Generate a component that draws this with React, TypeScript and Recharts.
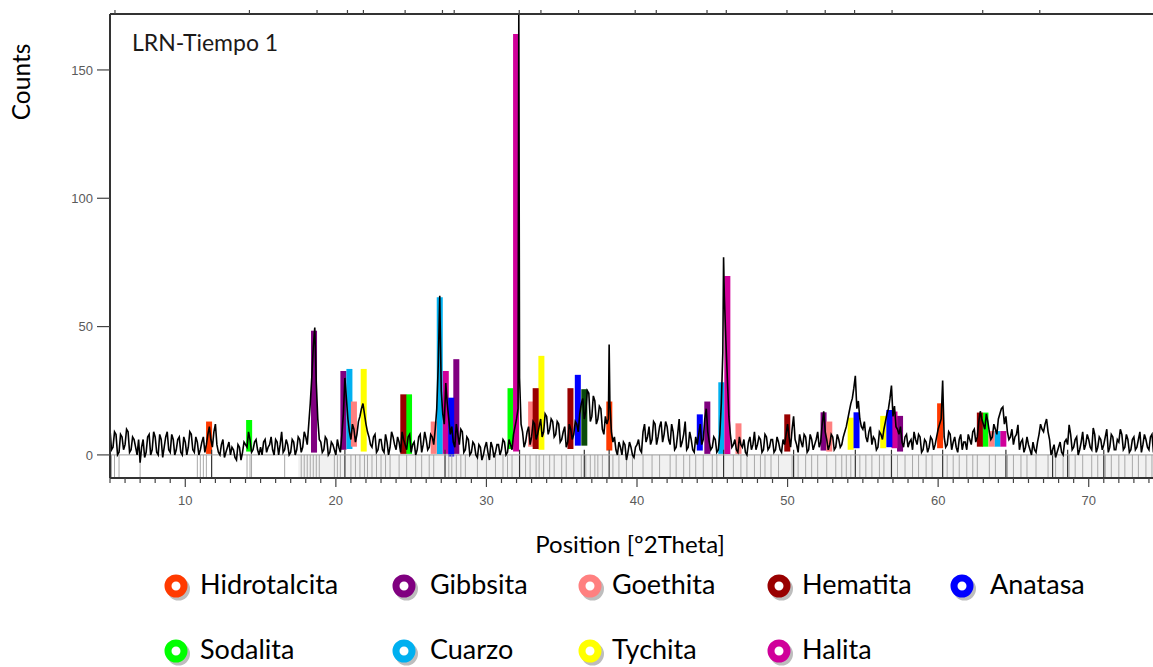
import {
  ComposedChart,
  Line,
  XAxis,
  YAxis,
  ReferenceArea,
  ReferenceLine,
} from 'recharts';

// measured diffractogram, read every 0.1 º2Theta:
// `profile` holds 5.0, 5.2, 5.4 ... and `profileMid` holds 5.1, 5.3, 5.5 ...
const profileStart = 5;
const profileStep = 0.2;
const profile = [
  10, 3, 8, 1, 7, 4, 9, 2, 6, 0,
  -3, 6, 1, 8, 2, 7, 0, 6, 3, 9,
  1, 6, 2, 7, 0, 5, 3, 8, 1, 5,
  2, 7, 4, 11, 3, 12, 1, 4, -1, 3,
  0, 2, -2, 3, 1, 4, 9, 1, 5, 2,
  3, 5, 1, 4, 2, 6, 0, 9, 2, 4,
  1, 5, 2, 6, 3, 7, 12, 30, 49.6, 14,
  5, 2, 6, 1, 4, 0, 3, 8, 30, 14,
  6, 10, 8, 15, 20, 12, 7, 3, 8, 2,
  6, 1, 5, 3, 7, 2, 5, 9, 4, 7,
  1, 5, 2, 8, 4, 6, 3, 7, 10, 35,
  25, 12, 20, 8, 5, 12, 4, 9, 2, 6,
  1, 4, -1, 3, 0, 5, -2, 3, 1, 4,
  2, 5, 1, 4, 8, 14, 30, 9, 5, 11,
  7, 12, 8, 14, 9, 15, 10, 13, 8, 12,
  6, 11, 5, 10, 8, 12, 16, 22, 17, 24,
  15, 21, 14, 18, 8, 12, 20, 5, 2, 5,
  0, 4, 1, 3, -1, 4, 2, 9, 5, 11,
  6, 12, 7, 13, 8, 11, 4, 9, 3, 14,
  5, 13, 3, 6, 1, 4, 12, 6, 18, 5,
  3, 6, 2, 20, 62, 30, 8, 4, 2, 7,
  3, 1, 5, 2, 9, 4, 6, 2, 7, 3,
  6, 2, 5, 1, 4, 12, 3, 15, 4, 8,
  3, 7, 2, 6, 4, 9, 5, 17, 6, 4,
  7, 3, 6, 4, 9, 14, 20, 26, 18, 14,
  10, 7, 9, 4, 6, 3, 8, 10, 16, 22,
  15, 11, 8, 5, 7, 3, 6, 9, 4, 7,
  2, 5, 3, 6, 4, 10, 14, 7, 4, 8,
  5, 3, 6, 2, 5, 8, 4, 10, 7, 17,
  12, 16, 9, 7, 10, 14, 18, 12, 9, 7,
  4, 8, 2, 6, 3, 4, 0, 2, 5, 12,
  9, 14, 6, 2, -1, 3, 1, 5, 4, 8,
  3, 7, 2, 9, 4, 6, 2, 8, 3, 6,
  4, 10, 3, 7, 2, 5, 8, 3, 6, 2,
  7, 3, 9, 4, 6, 2, 8, 3, 6, 4,
  5,
];
const profileMid = [
  2, 9, 0, 8, 2, 10, 1, 7, 3, 6,
  3, -1, 7, 0, 9, 1, 8, -1, 7, 2,
  8, 0, 6, 1, 7, 0, 9, 2, 7, 0,
  5, 1, 8, 6, 9, 4, 0, 6, 1, 5,
  3, -1, 4, -2, 5, 3, 6, 2, 6, 0,
  0, 6, 3, 7, 0, 5, 4, 1, 6, 0,
  6, 0, 7, 1, 9, 4, 20, 42, 28, 6,
  1, 7, 0, 5, 2, 6, 1, 16, 22, 9,
  12, 5, 13, 18, 16, 9, 4, 7, 1, 6,
  2, 8, 0, 9, 4, 7, 1, 6, 2, 8,
  4, 0, 7, 1, 9, 2, 8, 4, 18, 62,
  16, 28, 14, 11, 3, 8, 10, 1, 7, 0,
  5, 0, 4, -2, 3, 1, 5, -1, 4, 0,
  6, 0, 6, 2, 11, 18, 12, 3, 9, 4,
  13, 6, 11, 7, 16, 8, 14, 7, 13, 5,
  9, 3, 12, 6, 13, 9, 20, 14, 25, 13,
  23, 12, 19, 10, 15, 14, 9, 7, 0, 3,
  5, -2, 5, 0, 3, 6, 1, 12, 7, 4,
  13, 4, 11, 5, 13, 6, 12, 2, 8, 3,
  8, 2, 9, 2, 7, 8, 4, 14, 9, 2,
  7, 1, 8, 40, 45, 15, 3, 6, 1, 4,
  6, 0, 7, 4, 2, 7, 1, 8, 2, 6,
  1, 7, 2, 6, 8, 7, 10, 6, 1, 5,
  8, 1, 8, 2, 6, 3, 12, 9, 2, 8,
  2, 8, 3, 7, 11, 17, 22, 30.8, 21, 11,
  13, 5, 11, 7, 2, 9, 6, 13, 18, 27,
  19, 10, 11, 3, 8, 5, 2, 6, 8, 1,
  6, 1, 7, 2, 7, 12, 29, 3, 9, 2,
  7, 1, 8, 5, 2, 6, 9, 5, 13, 14,
  10, 13, 6, 12, 8, 16, 18.7, 15, 6, 10,
  7, 11.7, 5, 1, 7, 2, 5, 1, 8, 10,
  12, 9, 0, 4, 1, 5, 0, 6, 11.7, 2,
  6, 0, 5, 2, 8, 3, 10.5, 1, 7, 2,
  7, 1, 8, 2, 6, 10, 2, 8, 1, 6,
  2, 6, 1, 8, 3, 7, 1, 8, 2, 7,
];

// sharp maxima between the 0.1 grid points [º2Theta, counts]
const spikes: [number, number][] = [
  [32.15, 171.8],
  [38.15, 43],
  [45.75, 77],
];

// reference sticks under the baseline
const lightSticks = [
  5.1, 5.3, 5.6, 7.0, 10.8, 11.0, 11.2, 11.4, 14.1, 14.3, 14.4, 16.6, 17.7, 17.9, 18.1,
  18.3, 18.5, 18.7, 18.9, 19.9, 20.1, 20.3, 21.0, 21.3, 21.6, 21.9, 22.1, 22.4, 22.7, 23.0,
  23.3, 23.6, 24.2, 24.7, 25.3, 25.7, 26.2, 26.5, 27.5, 27.7, 28.0, 28.3, 28.6, 29.4, 30.0,
  30.6, 31.1, 31.4, 31.7, 32.6, 32.9, 33.3, 33.5, 33.8, 34.2, 34.5, 35.0, 35.3, 35.8, 36.3,
  36.6, 36.9, 37.2, 37.4, 37.7, 38.4, 38.8, 39.3, 39.7, 40.4, 41.0, 41.5, 42.2, 42.6, 43.1,
  43.5, 43.9, 44.4, 45.0, 45.3, 46.4, 46.9, 47.3, 47.8, 48.2, 48.5, 48.9, 49.4, 50.3, 50.7,
  51.2, 51.6, 52.0, 52.6, 53.2, 53.6, 53.9, 54.2, 54.8, 55.2, 55.6, 56.1, 56.4, 57.3, 57.8,
  58.3, 58.7, 59.2, 59.6, 60.6, 61.0, 61.4, 61.9, 62.3, 62.6, 63.4, 63.8, 64.6, 65.0, 65.5,
  65.9, 66.5, 67.3, 67.8, 68.3, 68.7, 69.1, 69.6, 70.2, 70.6, 71.1, 71.5, 72.0, 72.4, 72.9,
  73.3, 73.8, 74.2,
];
const darkSticks = [11.75, 20.6, 27.25, 32.2, 36.5, 38.15, 45.75, 50.4, 54.5, 56.9, 60.3, 64.5, 67.6, 68.6, 71.0];

// ticks on the upper frame
const topTicks = [
  5.33, 14.26, 18.75, 20.77, 21.83, 24.6, 27.08, 27.86, 32.18, 33.62, 36.12, 39.88, 41.28,
  44.65, 45.93, 49.96, 52.5, 54.45, 56.94, 62.96, 66.75,
];
const yTicks = [0, 50, 100, 150];

// phase identification: [º2Theta, base counts, top counts, phase]
type Peak = [number, number, number, string];
const peaks: Peak[] = [
  [11.58, 0.4, 13, 'Hidrotalcita'],
  [38.16, 1.7, 20.8, 'Hidrotalcita'],
  [60.13, 2.6, 20.1, 'Hidrotalcita'],
  [14.24, 1.3, 13.6, 'Sodalita'],
  [24.86, 0.4, 23.6, 'Sodalita'],
  [31.6, 2.3, 26, 'Sodalita'],
  [63.14, 3.2, 16.5, 'Sodalita'],
  [18.55, 0.9, 48.4, 'Gibbsita'],
  [20.5, 2, 32.7, 'Gibbsita'],
  [28.0, 0.4, 37.3, 'Gibbsita'],
  [44.67, 0.4, 20.8, 'Gibbsita'],
  [52.39, 1.7, 16.6, 'Gibbsita'],
  [57.47, 1.3, 15.2, 'Gibbsita'],
  [20.9, 2.3, 33.5, 'Cuarzo'],
  [26.9, 0.4, 61.4, 'Cuarzo'],
  [45.6, 0.4, 28.3, 'Cuarzo'],
  [63.94, 3.2, 9.3, 'Cuarzo'],
  [21.2, 3.2, 20.8, 'Goethita'],
  [26.5, 0.4, 13, 'Goethita'],
  [32.97, 3.2, 20.8, 'Goethita'],
  [46.74, 0.4, 12.3, 'Goethita'],
  [52.77, 1.3, 13, 'Goethita'],
  [63.55, 3.2, 9.3, 'Goethita'],
  [21.85, 1.3, 33.5, 'Tychita'],
  [33.65, 2, 38.6, 'Tychita'],
  [54.19, 2, 14.5, 'Tychita'],
  [56.35, 2.6, 15.2, 'Tychita'],
  [24.48, 0.4, 23.6, 'Hematita'],
  [33.27, 2.3, 26, 'Hematita'],
  [35.58, 2.3, 26, 'Hematita'],
  [49.98, 1.3, 15.8, 'Hematita'],
  [62.77, 3.2, 16.5, 'Hematita'],
  [27.3, 0.4, 32.7, 'Halita'],
  [31.97, 1.3, 164, 'Halita'],
  [46.0, 0.4, 69.7, 'Halita'],
  [57.1, 2.6, 16.9, 'Halita'],
  [64.33, 3.2, 9.3, 'Halita'],
  [27.66, -0.6, 22.3, 'Anatasa'],
  [36.07, 3.6, 31.2, 'Anatasa'],
  [44.17, 1.7, 15.8, 'Anatasa'],
  [54.58, 2.6, 16.6, 'Anatasa'],
  [56.76, 3, 17.5, 'Anatasa'],
  [36.5, 3.6, 25.6, 'otro'],
];

const legendRows = [
  ['Hidrotalcita', 'Gibbsita', 'Goethita', 'Hematita', 'Anatasa'],
  ['Sodalita', 'Cuarzo', 'Tychita', 'Halita'],
];

const phaseColors: Record<string, string> = {
  Hidrotalcita: '#FF3A00',
  Gibbsita: '#800080',
  Goethita: '#FF8080',
  Hematita: '#990000',
  Anatasa: '#0000FF',
  Sodalita: '#00FF00',
  Cuarzo: '#00B0F0',
  Tychita: '#FFFF00',
  Halita: '#D0009A',
  otro: '#0B4A0B',
};

const lineData = [
  ...profile.map((v, i) => ({ pos: Number((profileStart + i * profileStep).toFixed(2)), counts: v })),
  ...profileMid.map((v, i) => ({ pos: Number((profileStart + 0.1 + i * profileStep).toFixed(2)), counts: v })),
  ...spikes.map(([pos, counts]) => ({ pos, counts })),
].sort((a, b) => a.pos - b.pos);

const bottomTicks = Array.from({ length: 70 }, (_, i) => 5 + i);
const HALF_BAR = 0.2;
const FONT = 'Lato, "Open Sans", sans-serif';
const TICK_FONT = '"Liberation Sans", Arial, sans-serif';

function BottomTick({ x, y, payload }: any) {
  const major = payload.value % 10 === 0;
  return (
    <g>
      <line x1={x} x2={x} y1={y} y2={y + (major ? 9 : 5)} stroke="#444" strokeWidth={1.2} />
      {major && (
        <text x={x} y={y + 27} textAnchor="middle" fill="#5a5a5a" fontSize={13} fontFamily={TICK_FONT}>
          {payload.value}
        </text>
      )}
    </g>
  );
}

const legendX = [200, 430, 612, 802, 990];
const legendMarkerX = [176, 404, 590, 779, 962];
const legendY = [586, 651];

export default function App() {
  return (
    <div style={{ position: 'absolute', left: 0, top: 0, width: 1153, height: 667, overflow: 'hidden', background: '#fff' }}>
      <ComposedChart
        width={1200}
        height={667}
        data={lineData}
        margin={{ top: 0, right: 36, bottom: 129, left: 0 }}
      >
        <XAxis
          xAxisId="top"
          orientation="top"
          type="number"
          dataKey="pos"
          domain={[5, 75]}
          ticks={topTicks}
          interval={0}
          height={14}
          tickSize={4}
          tickFormatter={() => ''}
          stroke="#333"
          axisLine={{ stroke: '#333', strokeWidth: 2 }}
          tickLine={{ stroke: '#444', strokeWidth: 1.2 }}
        />
        <XAxis
          xAxisId={0}
          type="number"
          dataKey="pos"
          domain={[5, 75]}
          allowDataOverflow
          ticks={bottomTicks}
          interval={0}
          height={60}
          tickSize={0}
          tickMargin={0}
          tickLine={false}
          tick={<BottomTick />}
          axisLine={{ stroke: '#333', strokeWidth: 2 }}
          label={{
            content: () => (
              <text x={630} y={553} textAnchor="middle" fontSize={24} fontFamily={FONT} fill="#000">
                Position [º2Theta]
              </text>
            ),
          }}
        />
        <YAxis
          type="number"
          domain={[-9, 171.8]}
          allowDataOverflow
          ticks={yTicks}
          interval={0}
          width={110}
          tickSize={13}
          tickMargin={4}
          tick={{ fill: '#5a5a5a', fontSize: 13, fontFamily: TICK_FONT }}
          tickLine={{ stroke: '#444', strokeWidth: 1.2 }}
          axisLine={{ stroke: '#333', strokeWidth: 2 }}
          label={{
            content: () => (
              <text transform="translate(30,82) rotate(-90)" textAnchor="middle" fontSize={24.5} fontFamily={FONT} fill="#000">
                Counts
              </text>
            ),
          }}
        />

        <ReferenceArea x1={17.5} x2={75} y1={-9} y2={0} fill="#f1f1f1" fillOpacity={1} stroke="none" ifOverflow="hidden" />
        {lightSticks.map((p) => (
          <ReferenceLine key={`l${p}`} segment={[{ x: p, y: -9 }, { x: p, y: 0 }]} stroke="#a8a8a8" strokeWidth={1} />
        ))}
        {darkSticks.map((p) => (
          <ReferenceLine key={`d${p}`} segment={[{ x: p, y: -9 }, { x: p, y: 2 }]} stroke="#333" strokeWidth={1.2} />
        ))}
        <ReferenceLine y={0} stroke="#9a9a9a" strokeWidth={1} />

        <Line
          type="linear"
          dataKey="counts"
          stroke="#000"
          strokeWidth={1.6}
          dot={false}
          isAnimationActive={false}
        />

        {peaks.map(([pos, lo, hi, phase]) => (
          <ReferenceArea
            key={`${phase}${pos}`}
            x1={pos - HALF_BAR}
            x2={pos + HALF_BAR}
            y1={lo}
            y2={hi}
            fill={phaseColors[phase]}
            fillOpacity={1}
            stroke="none"
          />
        ))}
      </ComposedChart>

      <svg width={1153} height={667} style={{ position: 'absolute', left: 0, top: 0, pointerEvents: 'none' }}>
        <text x={132} y={51} fontSize={23} fontFamily={FONT} fill="#1c1a18">
          LRN-Tiempo 1
        </text>
        {legendRows.map((row, r) =>
          row.map((name, c) => (
            <g key={name}>
              <circle cx={legendMarkerX[c] + 2.5} cy={legendY[r] + 3} r={8} fill="none" stroke="#bdbdbd" strokeWidth={7} />
              <circle cx={legendMarkerX[c]} cy={legendY[r]} r={8} fill="#fff" stroke={phaseColors[name]} strokeWidth={7} />
              <text x={legendX[c]} y={legendY[r] + 8} fontSize={27} fontFamily={FONT} fill="#000">
                {name}
              </text>
            </g>
          )),
        )}
      </svg>
    </div>
  );
}
